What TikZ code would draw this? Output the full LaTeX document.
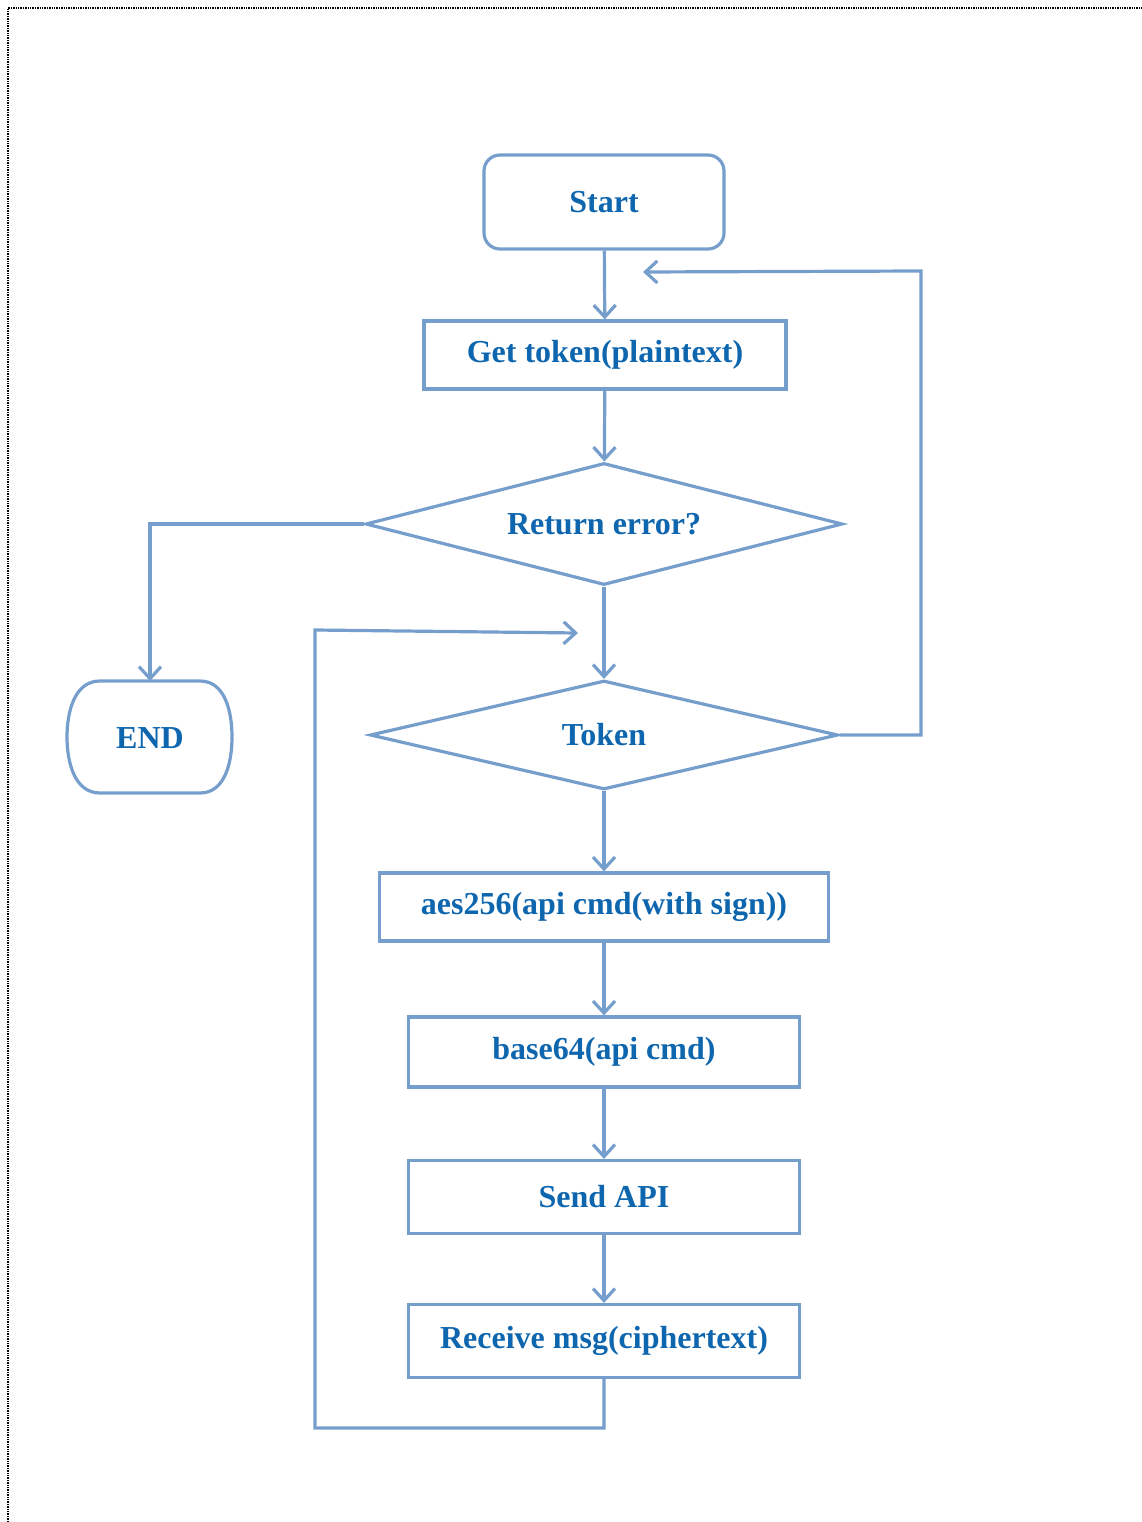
\documentclass[tikz,border=0pt]{standalone}
\usepackage{fontspec}
\setmainfont{Liberation Serif}
\usetikzlibrary{shapes.geometric,arrows.meta}

\definecolor{flowline}{RGB}{118,158,204}
\definecolor{flowtext}{RGB}{14,102,174}

\tikzset{
  flow/.style={draw=flowline,line width=3.2pt,
    -{Straight Barb[length=12pt,width=22pt,line width=3.2pt]}},
  box/.style={draw=flowline,line width=3.2pt,inner sep=0pt,
    text=flowtext,font=\fontsize{32}{36}\selectfont\bfseries},
  decision/.style={box,diamond,aspect=3.9},
}

\begin{document}
\begin{tikzpicture}[x=1pt,y=-1pt]
  \useasboundingbox (0,0) rectangle (1142,1522);
  \draw[densely dotted,line width=1.4pt] (8,1522) -- (8,8) -- (1142,8);

  % main column
  \node[box,rounded corners=16pt,minimum width=240pt,minimum height=94pt] (start) at (604,202) {Start};
  \node[box,minimum width=362pt,minimum height=68pt] (gettoken) at (605,355) {Get token(plaintext)};
  \node[decision,minimum width=477pt,minimum height=122pt] (reterr) at (604,524) {Return error?};
  \node[decision,minimum width=468pt,minimum height=109pt] (token) at (604,735) {Token};
  \node[box,minimum width=449pt,minimum height=68pt] (aes) at (604,907) {aes256(api cmd(with sign))};
  \node[box,minimum width=391pt,minimum height=70pt] (base) at (604,1052) {base64(api cmd)};
  \node[box,minimum width=391pt,minimum height=73pt] (send) at (604,1197) {Send API};
  \node[box,minimum width=391pt,minimum height=73pt] (recv) at (604,1341) {Receive msg(ciphertext)};

  % end terminal
  \node[box,draw=none,minimum width=165pt,minimum height=112pt] (finish) at (150,738) {END};
  \draw[draw=flowline,line width=3.2pt] (100,681) -- (200,681) to[out=0,in=90] (232,737)
    to[out=-90,in=0] (200,793) -- (100,793) to[out=180,in=-90] (67,737)
    to[out=90,in=180] cycle;

  \coordinate (back1) at (643,272);
  \coordinate (back2) at (578,633);

  \draw[flow] (start) -- (gettoken);
  \draw[flow] (gettoken) -- (reterr);
  \draw[flow] (reterr.west) -| (150,681);
  \draw[flow] (reterr.south) -- (token.north);
  \draw[flow] (token.east) -| (921,271) -- (back1);
  \draw[flow] (token) -- (aes);
  \draw[flow] (aes) -- (base);
  \draw[flow] (base) -- (send);
  \draw[flow] (send) -- (recv);
  \draw[flow] (recv.south) -- (604,1428) -- (315,1428) -- (315,630) -- (back2);
\end{tikzpicture}
\end{document}
